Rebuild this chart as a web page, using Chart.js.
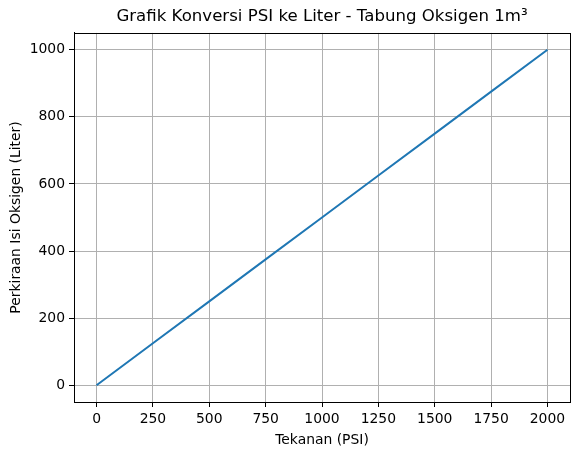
<!DOCTYPE html>
<html>
<head>
<meta charset="utf-8">
<script src="https://cdn.jsdelivr.net/npm/chart.js@4/dist/chart.umd.min.js"></script>
<style>
  html, body { margin: 0; padding: 0; background: #fff; }
  canvas { display: block; }
</style>
</head>
<body>
<canvas id="c" width="580" height="455"></canvas>
<script>
const tekananPSI = [0, 250, 500, 750, 1000, 1250, 1500, 1750, 2000];
const isiLiter = [0, 125, 250, 375, 500, 625, 750, 875, 1000];
const xTicks = [0, 250, 500, 750, 1000, 1250, 1500, 1750, 2000];
const yTicks = [0, 200, 400, 600, 800, 1000];

const FONT = "'DejaVu Sans', sans-serif";

const frame = {
  id: 'frame',
  afterDraw(chart) {
    const a = chart.chartArea, ctx = chart.ctx;
    ctx.save();
    ctx.strokeStyle = '#000';
    ctx.lineWidth = 1;
    ctx.strokeRect(Math.round(a.left) + 0.5, Math.round(a.top) + 0.5,
                   Math.round(a.right - a.left), Math.round(a.bottom - a.top));
    ctx.restore();
  }
};

new Chart(document.getElementById('c'), {
  type: 'line',
  data: {
    datasets: [{
      data: tekananPSI.map((x, i) => ({ x: x, y: isiLiter[i] })),
      borderColor: '#1f77b4',
      borderWidth: 2,
      pointRadius: 0,
      tension: 0,
      fill: false
    }]
  },
  options: {
    responsive: false,
    devicePixelRatio: 1,
    animation: false,
    layout: { padding: { left: 0, right: 10, top: 0, bottom: 0 } },
    plugins: {
      legend: { display: false },
      tooltip: { enabled: false },
      title: {
        display: true,
        text: 'Grafik Konversi PSI ke Liter - Tabung Oksigen 1m³',
        fullSize: false,
        color: '#000',
        font: { family: FONT, size: 16.6, weight: 'normal', lineHeight: 1.2 },
        padding: { top: 7, bottom: 6 }
      }
    },
    scales: {
      x: {
        type: 'linear',
        min: -100, max: 2100,
        afterBuildTicks: s => { s.ticks = xTicks.map(v => ({ value: v })); },
        afterFit: s => { s.height = 53; },
        ticks: { color: '#000', font: { family: FONT, size: 13.9 }, padding: 4, maxRotation: 0, autoSkip: false,
                 callback: v => String(v) },
        grid: { color: '#b0b0b0', lineWidth: 1, tickLength: 5, tickColor: '#000', drawTicks: true },
        border: { display: true, color: '#000', width: 1 },
        title: { display: true, text: 'Tekanan (PSI)', color: '#000',
                 font: { family: FONT, size: 13.9 }, padding: { top: 2, bottom: 6 } }
      },
      y: {
        type: 'linear',
        min: -50, max: 1050,
        afterBuildTicks: s => { s.ticks = yTicks.map(v => ({ value: v })); },
        afterFit: s => { s.width = 74; },
        ticks: { color: '#000', font: { family: FONT, size: 13.9 }, padding: 4, autoSkip: false,
                 callback: v => String(v) },
        grid: { color: '#b0b0b0', lineWidth: 1, tickLength: 5, tickColor: '#000', drawTicks: true },
        border: { display: true, color: '#000', width: 1 },
        title: { display: true, text: 'Perkiraan Isi Oksigen (Liter)', color: '#000',
                 font: { family: FONT, size: 13.9 }, padding: { top: 8, bottom: 2 } }
      }
    }
  },
  plugins: [frame]
});
</script>
</body>
</html>
